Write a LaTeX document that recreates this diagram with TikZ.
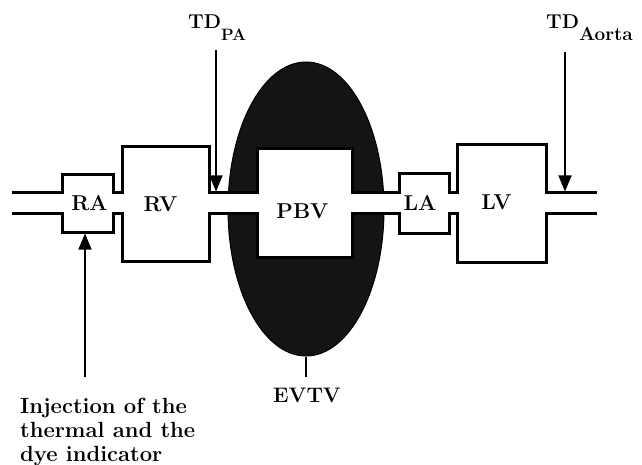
\documentclass[tikz,border=0pt]{standalone}
\usepackage{fontspec}
\usetikzlibrary{arrows.meta,shapes.geometric}
\newcommand\tubeconn[2]{%
  \fill[white] ([xshift=-1.6pt]#1.east |- 0,194.4) rectangle ([xshift=1.6pt]#2.west |- 0,211.6);
  \draw[tubeline] (#1.east |- 0,193) -- (#2.west |- 0,193)
                  (#1.east |- 0,213) -- (#2.west |- 0,213);}
\newcommand\heavy{\bfseries\addfontfeature{FakeBold=2.5}}
\begin{document}
\begin{tikzpicture}[x=1pt,y=-1pt,
  chamber/.style={draw,line width=3pt,fill=white,inner sep=0pt,outer sep=0pt},
  tubeline/.style={line width=3pt},
  pointer/.style={line width=1.5pt,-{Triangle[length=16pt,width=13pt]}},
  lbl/.style={font=\fontsize{20}{24}\selectfont\heavy,inner sep=0pt},
  clbl/.style={font=\fontsize{21.5}{24}\selectfont\heavy,inner sep=0pt}]
\useasboundingbox (0,0) rectangle (642,465);
% extravascular volume
\node[ellipse,fill=black!92,draw=black,line width=1pt,inner sep=0pt,
      minimum width=156pt,minimum height=294pt] (ell) at (306,209) {};
% chambers
\node[chamber,minimum width=51pt,minimum height=57pt,
      label={[clbl,xshift=2pt]center:RA}]  (RA)  at (87.5,203.5) {};
\node[chamber,minimum width=87pt,minimum height=114pt,
      label={[clbl,xshift=-5pt]center:RV}] (RV)  at (165.5,204) {};
\node[chamber,minimum width=95pt,minimum height=108pt,
      label={[clbl,xshift=-2pt,yshift=-8pt]center:PBV}] (PBV) at (304.5,203) {};
\node[chamber,minimum width=50pt,minimum height=59pt,
      label={[clbl,xshift=-4pt,yshift=1pt]center:LA}]  (LA)  at (424,203.5) {};
\node[chamber,minimum width=89pt,minimum height=117pt,
      label={[clbl,xshift=-5pt,yshift=1pt]center:LV}] (LV)  at (501.5,203.5) {};
\coordinate (vin)  at (12,203);
\coordinate (vout) at (597,203);
% vessels
\fill[white] (vin |- 0,194.4) rectangle ([xshift=1.6pt]RA.west |- 0,211.6);
\draw[tubeline] (vin |- 0,193) -- (RA.west |- 0,193) (vin |- 0,213) -- (RA.west |- 0,213);
\tubeconn{RA}{RV}
\tubeconn{RV}{PBV}
\tubeconn{PBV}{LA}
\tubeconn{LA}{LV}
\fill[white] ([xshift=-1.6pt]LV.east |- 0,194.4) rectangle (vout |- 0,211.6);
\draw[tubeline] (LV.east |- 0,193) -- (vout |- 0,193) (LV.east |- 0,213) -- (vout |- 0,213);
% labels
\node[lbl,anchor=base west] (tdpa) at (188,29)
  {TD\raisebox{-12pt}{\fontsize{16.5}{17}\selectfont PA}};
\node[lbl,anchor=base west] (tdao) at (546,29)
  {TD\raisebox{-12pt}{\fontsize{19}{20}\selectfont Aorta}};
\node[lbl,font=\fontsize{21}{24}\selectfont\heavy,anchor=center] (evtv) at (307,395) {EVTV};
\node[lbl,font=\fontsize{22}{24}\selectfont\heavy,anchor=base west,align=left] (inj) at (20,461)
  {Injection of the\\thermal and the\\dye indicator};
\coordinate (tdpaTop) at (216,50);
\coordinate (tdpaTip) at (216,191.5);
\coordinate (tdaoTop) at (565,52);
\coordinate (tdaoTip) at (565,191.5);
\coordinate (injTop) at (85,377);
\coordinate (injTip) at (85,233.5);
\coordinate (evtvTop) at (306,377);
\draw[pointer] (tdpaTop) -- (tdpaTip);
\draw[pointer] (tdaoTop) -- (tdaoTip);
\draw[pointer] (injTop) -- (injTip);
\draw[line width=1.5pt] (ell.south) -- (evtvTop);
\end{tikzpicture}
\end{document}
